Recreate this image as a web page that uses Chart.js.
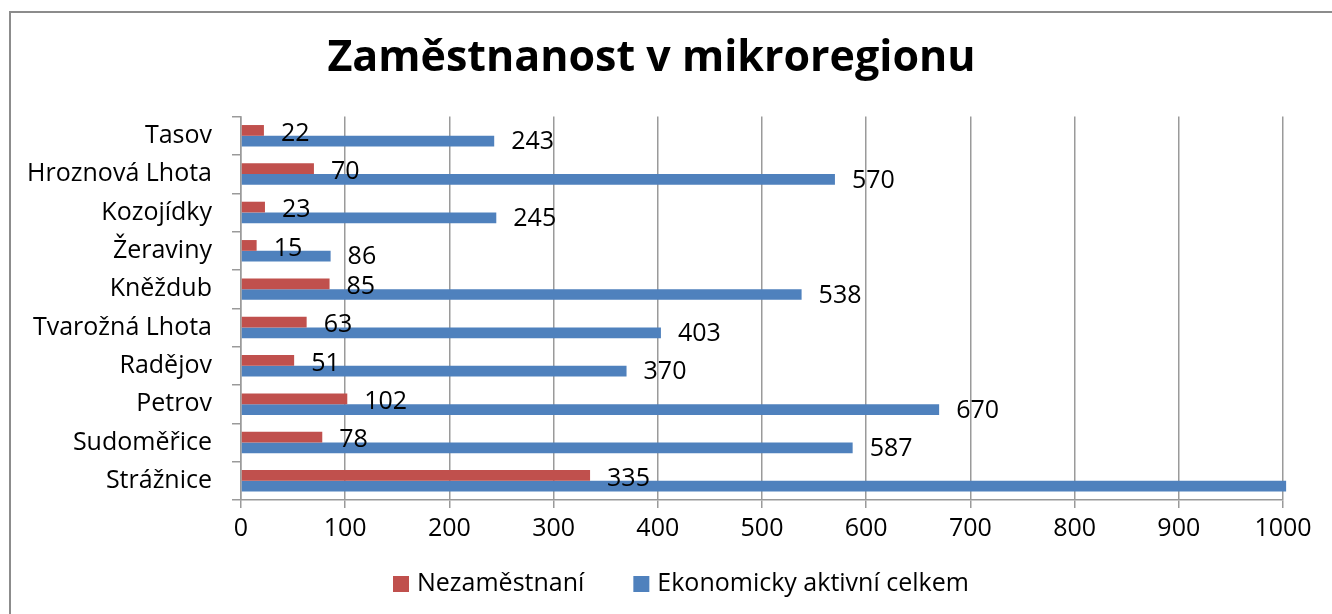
<!DOCTYPE html>
<html>
<head>
<meta charset="utf-8">
<script src="https://cdn.jsdelivr.net/npm/chart.js@4"></script>
<style>
  body { margin: 0; background: #fff; }
  #wrap { position: relative; width: 1332px; height: 614px; }
  #frame { position: absolute; left: 9px; top: 11px; width: 1400px; height: 700px;
           border-left: 2px solid #8c8c8c; border-top: 2px solid #8c8c8c; pointer-events: none; }
</style>
</head>
<body>
<div id="wrap">
  <canvas id="grafica" width="1332" height="614"></canvas>
  <div id="frame"></div>
</div>
<script>
const obce = ["Tasov", "Hroznová Lhota", "Kozojídky", "Žeraviny", "Kněždub",
  "Tvarožná Lhota", "Radějov", "Petrov", "Sudoměřice", "Strážnice"];
const nezamestnani = [22, 70, 23, 15, 85, 63, 51, 102, 78, 335];
const aktivni = [243, 570, 245, 86, 538, 403, 370, 670, 587, 1003];
const osaX = [0, 100, 200, 300, 400, 500, 600, 700, 800, 900, 1000];

const font = "'Open Sans', 'Noto Sans', sans-serif";

// popisky hodnot vpravo od sloupcu
const popisky = {
  id: "popisky",
  afterDatasetsDraw(chart) {
    const c = chart.ctx;
    const maxX = chart.scales.x.max;
    c.save();
    c.font = "25px " + font;
    c.fillStyle = "#000";
    c.textBaseline = "middle";
    chart.data.datasets.forEach((ds, i) => {
      chart.getDatasetMeta(i).data.forEach((bar, j) => {
        if (ds.data[j] > maxX) return;
        c.fillText(ds.data[j], bar.x + 17, bar.y + (i === 0 ? 3 : 1));
      });
    });
    c.restore();
  }
};

// legenda dole (vlastni, kvuli rozestupum)
const legenda = {
  id: "legenda",
  afterDraw(chart) {
    const c = chart.ctx;
    c.save();
    c.font = "25px " + font;
    c.textBaseline = "middle";
    let x = 393;
    const y = 584;
    chart.data.datasets.forEach((ds) => {
      c.fillStyle = ds.backgroundColor;
      c.fillRect(x, y - 8, 16, 16);
      c.fillStyle = "#000";
      c.fillText(ds.label, x + 24, y);
      x += 24 + c.measureText(ds.label).width + 49;
    });
    c.restore();
  }
};

const ctx = document.getElementById("grafica").getContext("2d");

const chart = new Chart(ctx, {
  type: "bar",
  data: {
    labels: obce,
    datasets: [{
      label: "Nezaměstnaní",
      data: nezamestnani,
      backgroundColor: "#C0504D"
    }, {
      label: "Ekonomicky aktivní celkem",
      data: aktivni,
      backgroundColor: "#4F81BD"
    }]
  },
  options: {
    indexAxis: "y",
    responsive: false,
    animation: false,
    clip: false,
    categoryPercentage: 0.56,
    barPercentage: 1.0,
    layout: { padding: { left: 20, right: 49, top: 0, bottom: 66 } },
    plugins: {
      title: {
        display: true,
        text: "Zaměstnanost v mikroregionu",
        color: "#000",
        font: { family: font, size: 43, weight: "bold" },
        padding: { top: 33, bottom: 32 }
      },
      legend: { display: false },
      tooltip: { enabled: false }
    },
    scales: {
      x: {
        min: 0,
        max: 1000,
        afterBuildTicks: (s) => { s.ticks = osaX.map(v => ({ value: v })); },
        afterFit: (s) => { s.height = 48; },
        ticks: { color: "#000", font: { family: font, size: 25 }, padding: 6, maxRotation: 0,
                 callback: (v) => String(v) },
        grid: { color: "#9a9a9a", lineWidth: 1.5, tickLength: 8 },
        border: { color: "#9a9a9a", width: 1.5 }
      },
      y: {
        afterFit: (s) => { s.width = 221; },
        ticks: { color: "#000", font: { family: font, size: 25 }, padding: 20 },
        grid: { offset: true, drawOnChartArea: false, color: "#9a9a9a", lineWidth: 1.5, tickLength: 9 },
        border: { color: "#9a9a9a", width: 1.5 }
      }
    }
  },
  plugins: [popisky, legenda]
});
</script>
</body>
</html>
